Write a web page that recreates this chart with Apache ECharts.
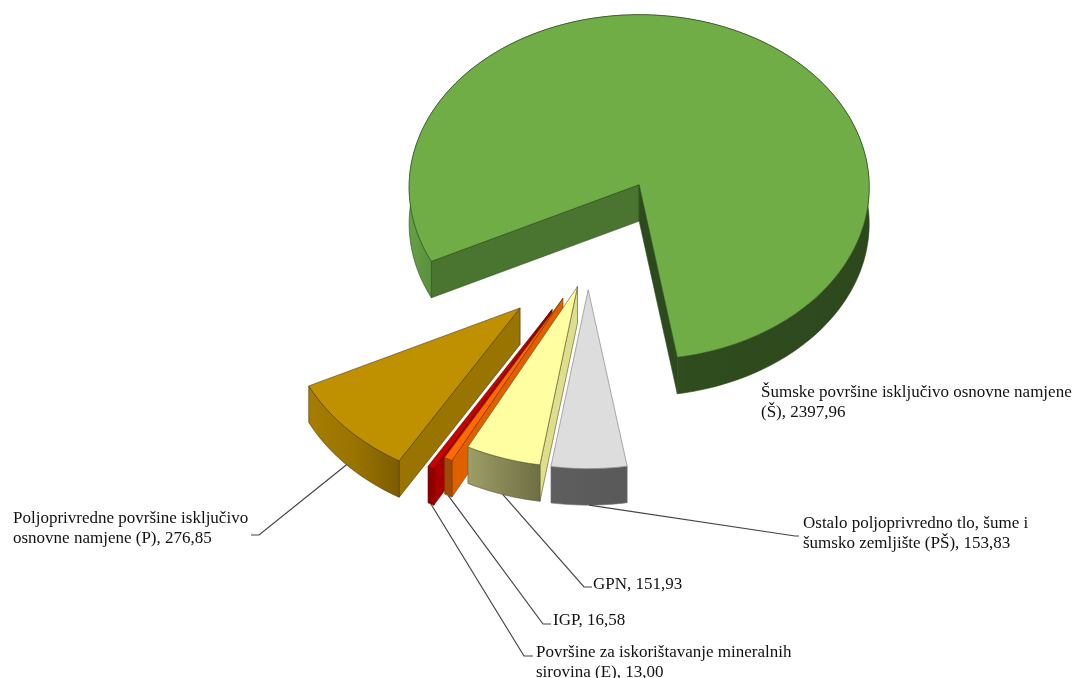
<!DOCTYPE html>
<html>
<head>
<meta charset="utf-8">
<script src="https://cdn.jsdelivr.net/npm/echarts@6/dist/echarts.min.js"></script>
<style>
html, body { margin: 0; padding: 0; background: #fff; }
#main { width: 1075px; height: 678px; }
</style>
</head>
<body>
<div id="main"></div>
<script>
// podaci
const categories = [
  'Šumske površine isključivo osnovne namjene\n(Š)',
  'Ostalo poljoprivredno tlo, šume i\nšumsko zemljište (PŠ)',
  'GPN',
  'IGP',
  'Površine za iskorištavanje mineralnih\nsirovina (E)',
  'Poljoprivredne površine isključivo\nosnovne namjene (P)'
]
const values = [2397.96, 153.83, 151.93, 16.58, 13.00, 276.85]

// raspored i boje
const center = [594, 252]
const firstAngle = 243.8
const tilt = 0.75
const persp = 0.015
const depth = 36.5
const explode = [101, 49, 50, 70, 90, 102]
const nudge = [[-1, 0], [-6, 1], [-1, -1], [2, 0], [3, -1], [1, 4]]
const radius = [230, 235, 237, 240, 240, 234]
const order = [0, 5, 4, 3, 2, 1]
const topColors = ['#70AD47', '#DDDDDD', '#FFFFA1', '#FF6A00', '#CC0000', '#BF9000']
const wallColors = ['#4A7530', '#8A8A8A', '#DEDE8C', '#E06000', '#A80000', '#9A7400']
const endWallColors = ['#2D4A1E', '#8A8A8A', '#DEDE8C', '#E06000', '#A80000', '#9A7400']
const rimColors = [
  [[0, '#66A146'], [0.06, '#568C3A'], [0.6, '#2F4C1E'], [1, '#2D481D']],
  [[0, '#5E5E5E'], [1, '#595959']],
  [[0, '#9E9E68'], [1, '#6E6E44']],
  [[0, '#A04A08'], [1, '#A04A08']],
  [[0, '#8C0000'], [1, '#8C0000']],
  [[0, '#A67D00'], [0.5, '#9A7400'], [1, '#7C5D00']]
]
const edgeColors = ['#2A4A18', '#777777', '#55552A', '#7A3A00', '#5A0000', '#4A3800']
const labelPos = [[761, 383], [803, 514], [593, 575], [553, 611], [536, 643], [13, 509]]
// koljeno linije: [x kraja uz tekst, x koljena, y]
const leaders = [null, [799, 795, 536], [592, 584, 587], [551, 543, 624], [533, 524, 656], [251, 259, 535]]

const total = values.reduce((a, b) => a + b, 0)
const startAngles = []
values.reduce((acc, v, i) => {
  startAngles[i] = acc
  return acc + v / total * 360
}, firstAngle)

const fmt = (v) => v.toFixed(2).replace('.', ',')

function rim(apex, r, deg, z) {
  const a = deg * Math.PI / 180
  const x = Math.sin(a), y = -Math.cos(a)
  const s = 1 + persp * y
  return [apex[0] + r * x * s, apex[1] + r * tilt * y * s + z]
}

function arc(apex, r, from, to, z) {
  const pts = []
  const n = Math.max(2, Math.ceil((to - from) / 1.5))
  for (let k = 0; k <= n; k++) pts.push(rim(apex, r, from + (to - from) * k / n, z))
  return pts
}

function renderSlice(params, api) {
  const i = params.dataIndex
  const v = api.value(0)
  const sweep = v / total * 360
  const from = startAngles[i]
  const to = from + sweep
  const mid = (from + sweep / 2) * Math.PI / 180
  const apex = [
    center[0] + explode[i] * Math.sin(mid) + nudge[i][0],
    center[1] - explode[i] * Math.cos(mid) * tilt + nudge[i][1]
  ]
  const r = radius[i]
  const z2 = order.indexOf(i) * 10
  const edge = { stroke: edgeColors[i], lineWidth: 0.6 }
  const poly = (points, fill, dz) => ({
    type: 'polygon', z2: z2 + dz, shape: { points },
    style: Object.assign({ fill }, edge)
  })
  const wall = (deg, fill, dz) => {
    const p = rim(apex, r, deg, 0)
    return poly([apex, p, [p[0], p[1] + depth], [apex[0], apex[1] + depth]], fill, dz)
  }
  const top = arc(apex, r, from, to, 0)
  const bottom = arc(apex, r, from, to, depth).reverse()
  const children = []
  // samo zidovi okrenuti prema gledatelju
  if (Math.sin(from * Math.PI / 180) < 0) children.push(wall(from, wallColors[i], 0))
  if (Math.sin(to * Math.PI / 180) > 0) children.push(wall(to, endWallColors[i], 1))
  children.push(
    poly(top.concat(bottom),
      new echarts.graphic.LinearGradient(0, 0, 1, 0,
        rimColors[i].map(s => ({ offset: s[0], color: s[1] }))), 2),
    poly([apex].concat(top), topColors[i], 3)
  )

  // natpis i linija do njega
  children.push({
    type: 'text', z2: 100,
    style: {
      x: labelPos[i][0], y: labelPos[i][1],
      text: categories[i] + ', ' + fmt(v),
      font: '17px "Liberation Serif"', lineHeight: 20, fill: '#111'
    }
  })
  if (leaders[i]) {
    const start = rim(apex, r, from + sweep / 2, depth)
    const l = leaders[i]
    children.push({
      type: 'polyline', z2: 90,
      shape: { points: [start, [l[1], l[2]], [l[0], l[2]]] },
      style: { stroke: '#444', lineWidth: 1.2, fill: null }
    })
  }
  return { type: 'group', children }
}

const myChart = echarts.init(document.getElementById('main'))
myChart.setOption({
  animation: false,
  backgroundColor: '#fff',
  series: [{
    type: 'custom',
    coordinateSystem: 'none',
    renderItem: renderSlice,
    data: values.map(v => [v])
  }]
})
</script>
</body>
</html>
